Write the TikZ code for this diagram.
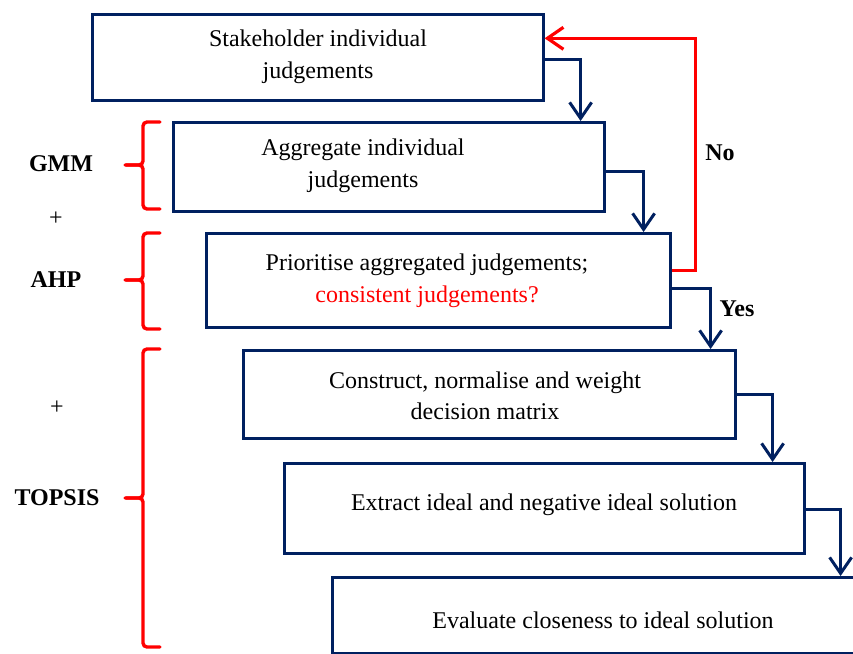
\documentclass[tikz,border=0pt]{standalone}
\usepackage{fontspec}
\setmainfont{Liberation Serif}
\usetikzlibrary{arrows.meta}
\definecolor{navy}{RGB}{0,32,96}
\definecolor{brred}{RGB}{255,0,0}
\begin{document}
\begin{tikzpicture}[x=1pt,y=-1pt,
  stepbox/.style={draw=navy, line width=2.6pt, rectangle, inner sep=0pt, anchor=north west},
  txt/.style={font=\fontsize{24}{31.5}\selectfont, align=center, inner sep=0pt},
  lbl/.style={font=\fontsize{24}{28}\selectfont\bfseries, inner sep=0pt},
  plus/.style={font=\fontsize{24}{28}\selectfont, inner sep=0pt},
  flow/.style={draw=navy, line width=2.6pt,
    -{Straight Barb[length=16pt,width=22pt,line width=3pt]}},
  back/.style={draw=brred, line width=3pt,
    -{Straight Barb[length=16pt,width=22pt,line width=3.2pt]}},
  bracket/.style={draw=brred, line width=3.4pt, rounded corners=4pt, line cap=round}
]
\clip (0,0) rectangle (853,653);

% process boxes
\node[stepbox, minimum width=451pt, minimum height=86pt] (b1) at (91,13) {};
\node[stepbox, minimum width=431pt, minimum height=89pt] (b2) at (172,121) {};
\node[stepbox, minimum width=464pt, minimum height=94pt] (b3) at (205,232) {};
\node[stepbox, minimum width=492pt, minimum height=88pt] (b4) at (242,349) {};
\node[stepbox, minimum width=520pt, minimum height=90pt] (b5) at (283,462) {};
\node[stepbox, minimum width=560pt, minimum height=76pt] (b6) at (331,576) {};

% box texts
\node[txt] (t1) at (318,57) {Stakeholder individual\\judgements};
\node[txt] (t2) at (363,166) {Aggregate individual\\judgements};
\node[txt] (t3) at (427,281) {Prioritise aggregated judgements;\\\textcolor{brred}{consistent judgements?}};
\node[txt] (t4) at (485,396) {Construct, normalise and weight\\decision matrix};
\node[txt] (t5) at (544,505) {Extract ideal and negative ideal solution};
\node[txt] (t6) at (603,620) {Evaluate closeness to ideal solution};

% forward connectors
\coordinate (k1) at ([xshift=36pt,yshift=-2pt]b1.east);
\coordinate (k2) at ([xshift=38pt,yshift=-4.5pt]b2.east);
\coordinate (k3) at ([xshift=39pt,yshift=-8pt]b3.east);
\coordinate (k4) at ([xshift=36pt]b4.east);
\coordinate (k5) at ([xshift=35pt,yshift=-1pt]b5.east);
\draw[flow] ([yshift=-2pt]b1.east) -- (k1) -- (b2.north -| k1);
\draw[flow] ([yshift=-4.5pt]b2.east) -- (k2) -- (b3.north -| k2);
\draw[flow] ([yshift=-8pt]b3.east) -- (k3) -- (b4.north -| k3);
\draw[flow] (b4.east) -- (k4) -- (b5.north -| k4);
\draw[flow] ([yshift=-1pt]b5.east) -- (k5) -- (b6.north -| k5);

% feedback loop when judgements are inconsistent
\coordinate (r1) at ([xshift=24pt,yshift=10pt]b3.east);
\coordinate (r2) at ([yshift=19pt]b1.east);
\draw[back] ([yshift=10pt]b3.east) -- (r1) -- (r1 |- r2) -- (r2);

\node[lbl] (no) at (720,153) {No};
\node[lbl] (yes) at (737,309) {Yes};

% method brackets
\draw[bracket] (160,122) -- (143,122) -- (143,165) -- (125,165);
\draw[bracket] (126,165) -- (143,165) -- (143,209) -- (160,209);
\draw[bracket] (160,233) -- (143,233) -- (143,280) -- (125,280);
\draw[bracket] (126,280) -- (143,280) -- (143,329) -- (160,329);
\draw[bracket] (160,349) -- (143,349) -- (143,498) -- (125,498);
\draw[bracket] (126,498) -- (143,498) -- (143,647) -- (160,647);

\node[lbl] (gmm) at (61,164) {GMM};
\node[plus] (p1) at (56,219) {+};
\node[lbl] (ahp) at (56,280) {AHP};
\node[plus] (p2) at (57,408) {+};
\node[lbl] (topsis) at (57,498) {TOPSIS};
\end{tikzpicture}
\end{document}
